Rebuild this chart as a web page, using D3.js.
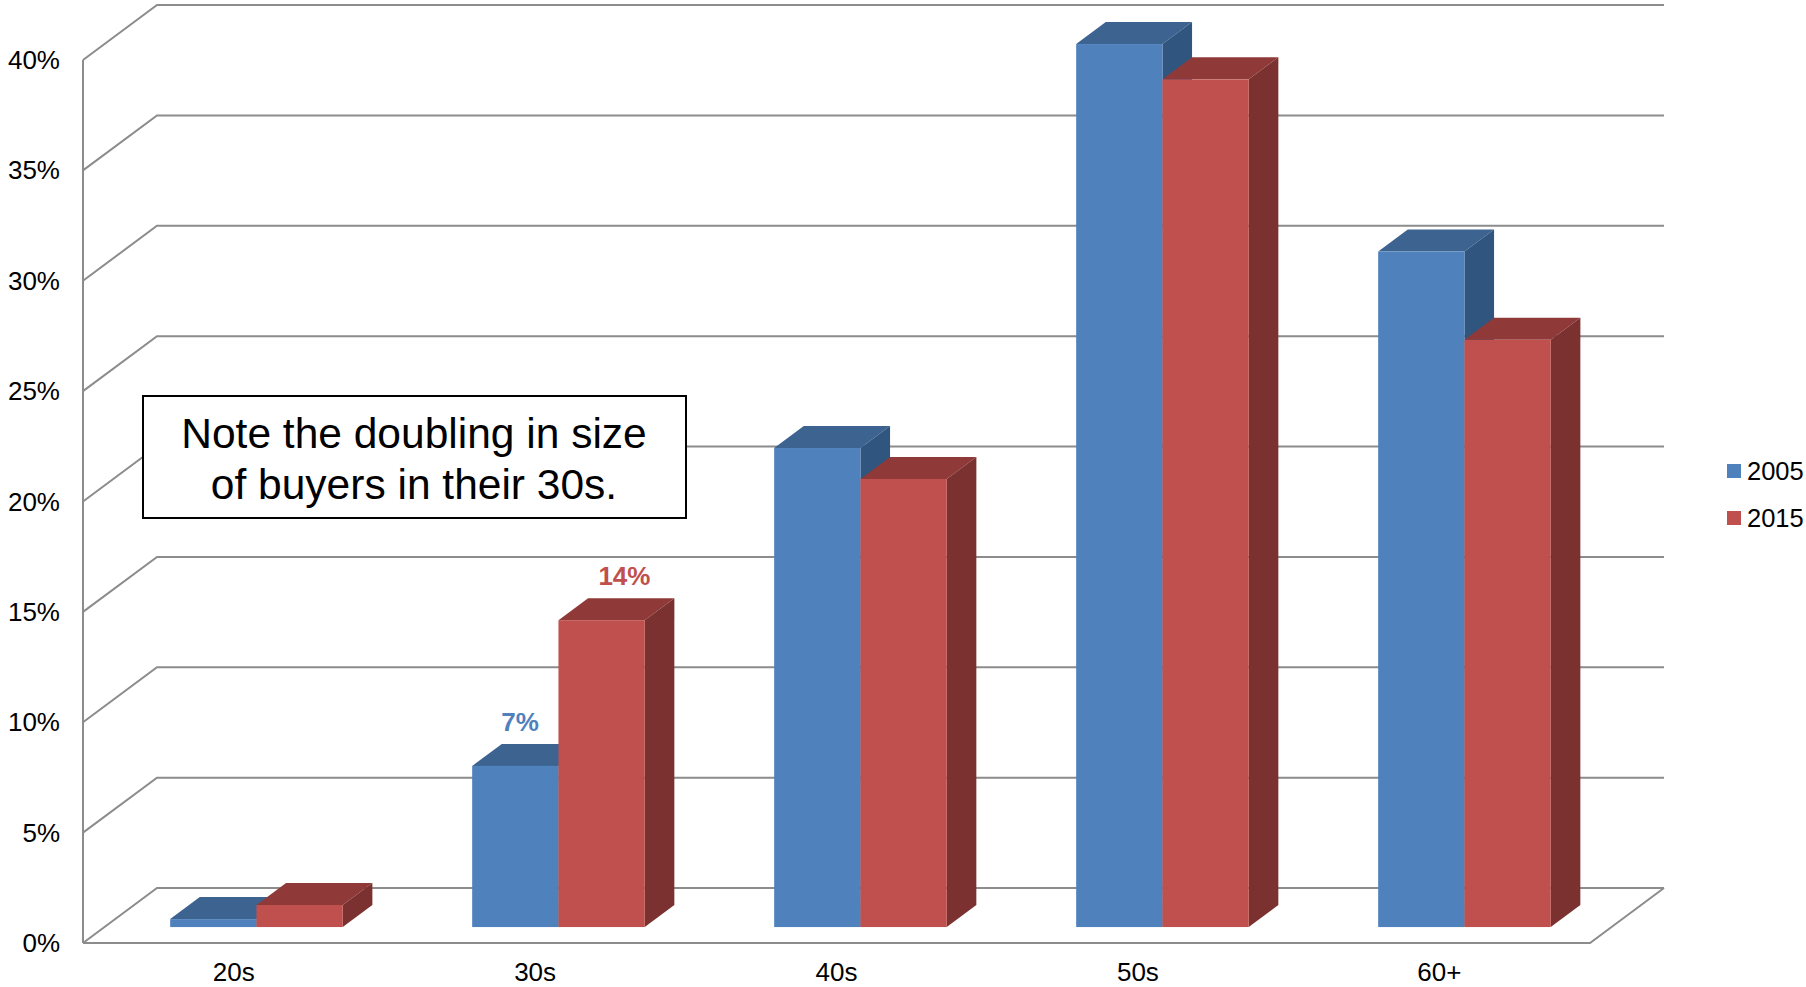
<!DOCTYPE html>
<html>
<head>
<meta charset="utf-8">
<script src="https://cdn.jsdelivr.net/npm/d3@7"></script>
<style>
  body { margin: 0; background: #fff; }
  svg { display: block; font-family: "Liberation Sans", Arial, sans-serif; }
</style>
</head>
<body>
<div id="chart"></div>
<script>
// Datos
const categorias = ["20s", "30s", "40s", "50s", "60+"];
const series = ["2005", "2015"];
const valores2005 = [0.36, 7.3, 21.7, 40.0, 30.6];
const valores2015 = [1.0, 13.9, 20.3, 38.4, 26.6];
const etiquetas2005 = ["", "7%", "", "", ""];
const etiquetas2015 = ["", "14%", "", "", ""];
const ticksY = [0, 5, 10, 15, 20, 25, 30, 35, 40];
const nota = ["Note the doubling in size", "of buyers in their 30s."];

const colores = {
  "2005": { frente: "#4F81BD", arriba: "#3D6491", lado: "#30557F" },
  "2015": { frente: "#C0504D", arriba: "#8F3A38", lado: "#7B3130" }
};

const width = 1806, height = 987;
const svg = d3.select("#chart").append("svg")
  .attr("width", width).attr("height", height);

// Escalas (plano frontal)
const xIzq = 83, xDer = 1590;
const xEje = d3.scaleBand().domain(categorias).range([xIzq, xDer]);
const x0 = d3.scaleBand().domain(categorias).range([xIzq + 1, xDer + 4]);
const x1 = d3.scaleBand().domain(series).range([0, x0.bandwidth()])
  .paddingInner(0).paddingOuter(0.75);
const y = d3.scaleLinear().domain([0, 40]).range([943, 60]);

// profundidad oblicua
const DX = 74, DY = -55;
const off = z => [z * DX, z * DY];
const zFrente = 0.29, zFondo = 0.69;

const gris = "#8c8c8c";
const grid = svg.append("g").attr("fill", "none").attr("stroke", gris).attr("stroke-width", 2);

// pared del fondo y pared izquierda
ticksY.forEach(t => {
  const [dx, dy] = off(1);
  grid.append("path")
    .attr("d", `M${xIzq},${y(t)} L${xIzq + dx},${y(t) + dy} L${xDer + dx},${y(t) + dy}`);
});
grid.append("line").attr("x1", xIzq).attr("x2", xIzq).attr("y1", y(40)).attr("y2", y(0));
// suelo
grid.append("path")
  .attr("d", `M${xIzq},${y(0)} L${xDer},${y(0)} L${xDer + DX},${y(0) + DY}`);

// etiquetas eje Y
svg.append("g").selectAll("text").data(ticksY).join("text")
  .attr("x", 60).attr("y", d => y(d)).attr("dy", "0.35em")
  .attr("text-anchor", "end").attr("font-size", 26).attr("fill", "#000")
  .text(d => d + "%");

// etiquetas eje X
svg.append("g").selectAll("text").data(categorias).join("text")
  .attr("x", d => xEje(d) + xEje.bandwidth() / 2).attr("y", 972).attr("dy", "0.35em")
  .attr("text-anchor", "middle").attr("font-size", 26).attr("fill", "#000")
  .text(d => d);

// barras
const datos = [];
categorias.forEach((c, i) => {
  datos.push({ cat: c, serie: "2005", v: valores2005[i], etiqueta: etiquetas2005[i] });
  datos.push({ cat: c, serie: "2015", v: valores2015[i], etiqueta: etiquetas2015[i] });
});

const barras = svg.append("g");
datos.forEach(d => {
  const [fx, fy] = off(zFrente);
  const [bx, by] = off(zFondo);
  const xl = x0(d.cat) + x1(d.serie) + fx;
  const xr = xl + x1.bandwidth();
  const yt = y(d.v) + fy;
  const yb = y(0) + fy;
  const ddx = bx - fx, ddy = by - fy;
  const col = colores[d.serie];
  const g = barras.append("g");
  // cara superior
  g.append("path")
    .attr("d", `M${xl},${yt} L${xl + ddx},${yt + ddy} L${xr + ddx},${yt + ddy} L${xr},${yt} Z`)
    .attr("fill", col.arriba);
  // lado derecho
  g.append("path")
    .attr("d", `M${xr},${yt} L${xr + ddx},${yt + ddy} L${xr + ddx},${yb + ddy} L${xr},${yb} Z`)
    .attr("fill", col.lado);
  // frente
  g.append("rect")
    .attr("x", xl).attr("y", yt).attr("width", xr - xl).attr("height", yb - yt)
    .attr("fill", col.frente);
  if (d.etiqueta) {
    // la etiqueta de 2005 queda algo a la izquierda, la de 2015 a la derecha
    const desplaz = d.serie === "2005" ? -10 : 8;
    g.append("text")
      .attr("x", (xl + xr) / 2 + ddx / 2 + desplaz).attr("y", yt + ddy - 13)
      .attr("text-anchor", "middle").attr("font-size", 26).attr("font-weight", "bold")
      .attr("fill", col.frente)
      .text(d.etiqueta);
  }
});

// leyenda
const leyenda = svg.append("g");
series.forEach((s, i) => {
  const cy = 471 + i * 47;
  leyenda.append("rect").attr("x", 1727).attr("y", cy - 7).attr("width", 14).attr("height", 14)
    .attr("fill", colores[s].frente);
  leyenda.append("text").attr("x", 1747).attr("y", cy).attr("dy", "0.35em")
    .attr("font-size", 25.5).attr("fill", "#000").text(s);
});

// cuadro de texto
svg.append("rect").attr("x", 143).attr("y", 396).attr("width", 543).attr("height", 122)
  .attr("fill", "#fff").attr("stroke", "#000").attr("stroke-width", 2);
svg.append("g").selectAll("text").data(nota).join("text")
  .attr("x", 414).attr("y", (d, i) => 433 + i * 51).attr("dy", "0.35em")
  .attr("text-anchor", "middle").attr("font-size", 42.5).attr("fill", "#000")
  .text(d => d);
</script>
</body>
</html>
